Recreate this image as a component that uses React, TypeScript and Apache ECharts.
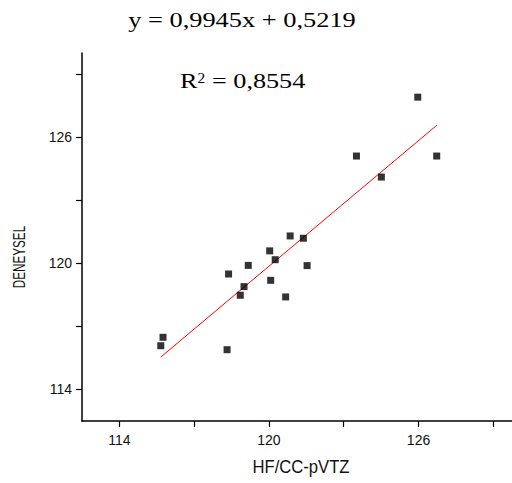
import React, { useEffect, useRef } from 'react';
import * as echarts from 'echarts';

const xValues = [115.66, 115.75, 118.32, 118.38, 118.85, 119.0, 119.17, 120.03, 120.07, 120.25, 120.67, 120.85, 121.38, 121.53, 123.51, 124.51, 125.97, 126.73];
const yValues = [116.08, 116.48, 115.89, 119.49, 118.48, 118.89, 119.9, 120.59, 119.19, 120.17, 118.4, 121.3, 121.19, 119.89, 125.1, 124.1, 127.9, 125.1];
const fitX = [115.66, 126.74];
const fitY = [115.54, 126.57];
const tickValues = [114, 117, 120, 123, 126, 129];
const labelValues = [114, 120, 126];
const equationText = 'y = 0,9945x + 0,5219';
const r2Label = 'R';
const r2Sup = '2';
const r2Value = '= 0,8554';
const xTitle = 'HF/CC-pVTZ';
const yTitle = 'DENEYSEL';

const SANS = '"Liberation Sans", Arial, sans-serif';
const SERIF = '"Liberation Serif", "Times New Roman", serif';

export default function App() {
  const ref = useRef<HTMLDivElement>(null);
  useEffect(() => {
    if (!ref.current) return;
    const chart = echarts.init(ref.current, null, { renderer: 'svg' });
    const axisCommon = {
      type: 'value' as const,
      axisLine: { show: true, onZero: false, lineStyle: { color: '#000', width: 1.5 } },
      axisTick: { show: true, inside: false, length: 6, lineStyle: { color: '#000', width: 1.2 }, customValues: tickValues },
      axisLabel: { color: '#111', fontSize: 14, fontFamily: SANS, customValues: labelValues },
      splitLine: { show: false },
    };
    chart.setOption({
      animation: false,
      backgroundColor: '#fff',
      grid: { left: 82, right: 0, top: 53, bottom: 62, containLabel: false },
      xAxis: { ...axisCommon, min: 112.5, max: 129.75, axisLabel: { ...axisCommon.axisLabel, margin: 12 } },
      yAxis: { ...axisCommon, min: 112.5, max: 130, axisLabel: { ...axisCommon.axisLabel, margin: 10 } },
      series: [
        {
          type: 'line',
          data: fitX.map((x, i) => [x, fitY[i]]),
          showSymbol: false,
          symbol: 'none',
          lineStyle: { color: '#ff0000', width: 1 },
          z: 1,
        },
        {
          type: 'scatter',
          data: xValues.map((x, i) => [x, yValues[i]]),
          symbol: 'rect',
          symbolSize: 7,
          itemStyle: { color: '#000' },
          z: 2,
        },
      ],
      graphic: [
        { type: 'text', x: 242, y: 19.6, scaleX: 1.2, style: { text: equationText, font: `22px ${SERIF}`, fill: '#000', align: 'center', verticalAlign: 'middle' } },
        { type: 'text', x: 180, y: 80.6, scaleX: 1.19, style: { text: r2Label, font: `22px ${SERIF}`, fill: '#000', align: 'left', verticalAlign: 'middle' } },
        { type: 'text', x: 197.5, y: 78, scaleX: 1.1, style: { text: r2Sup, font: `14px ${SERIF}`, fill: '#000', align: 'left', verticalAlign: 'middle' } },
        { type: 'text', x: 212, y: 80.6, scaleX: 1.19, style: { text: r2Value, font: `22px ${SERIF}`, fill: '#000', align: 'left', verticalAlign: 'middle' } },
        { type: 'text', x: 301, y: 467, scaleX: 0.875, style: { text: xTitle, font: `19px ${SANS}`, fill: '#111', align: 'center', verticalAlign: 'middle' } },
        { type: 'text', x: 19, y: 257, rotation: Math.PI / 2, scaleX: 0.73, style: { text: yTitle, font: `16px ${SANS}`, fill: '#111', align: 'center', verticalAlign: 'middle' } },
      ],
    });
    return () => chart.dispose();
  }, []);
  return <div ref={ref} style={{ width: 512, height: 483, position: 'absolute', left: 0, top: 0 }} />;
}
